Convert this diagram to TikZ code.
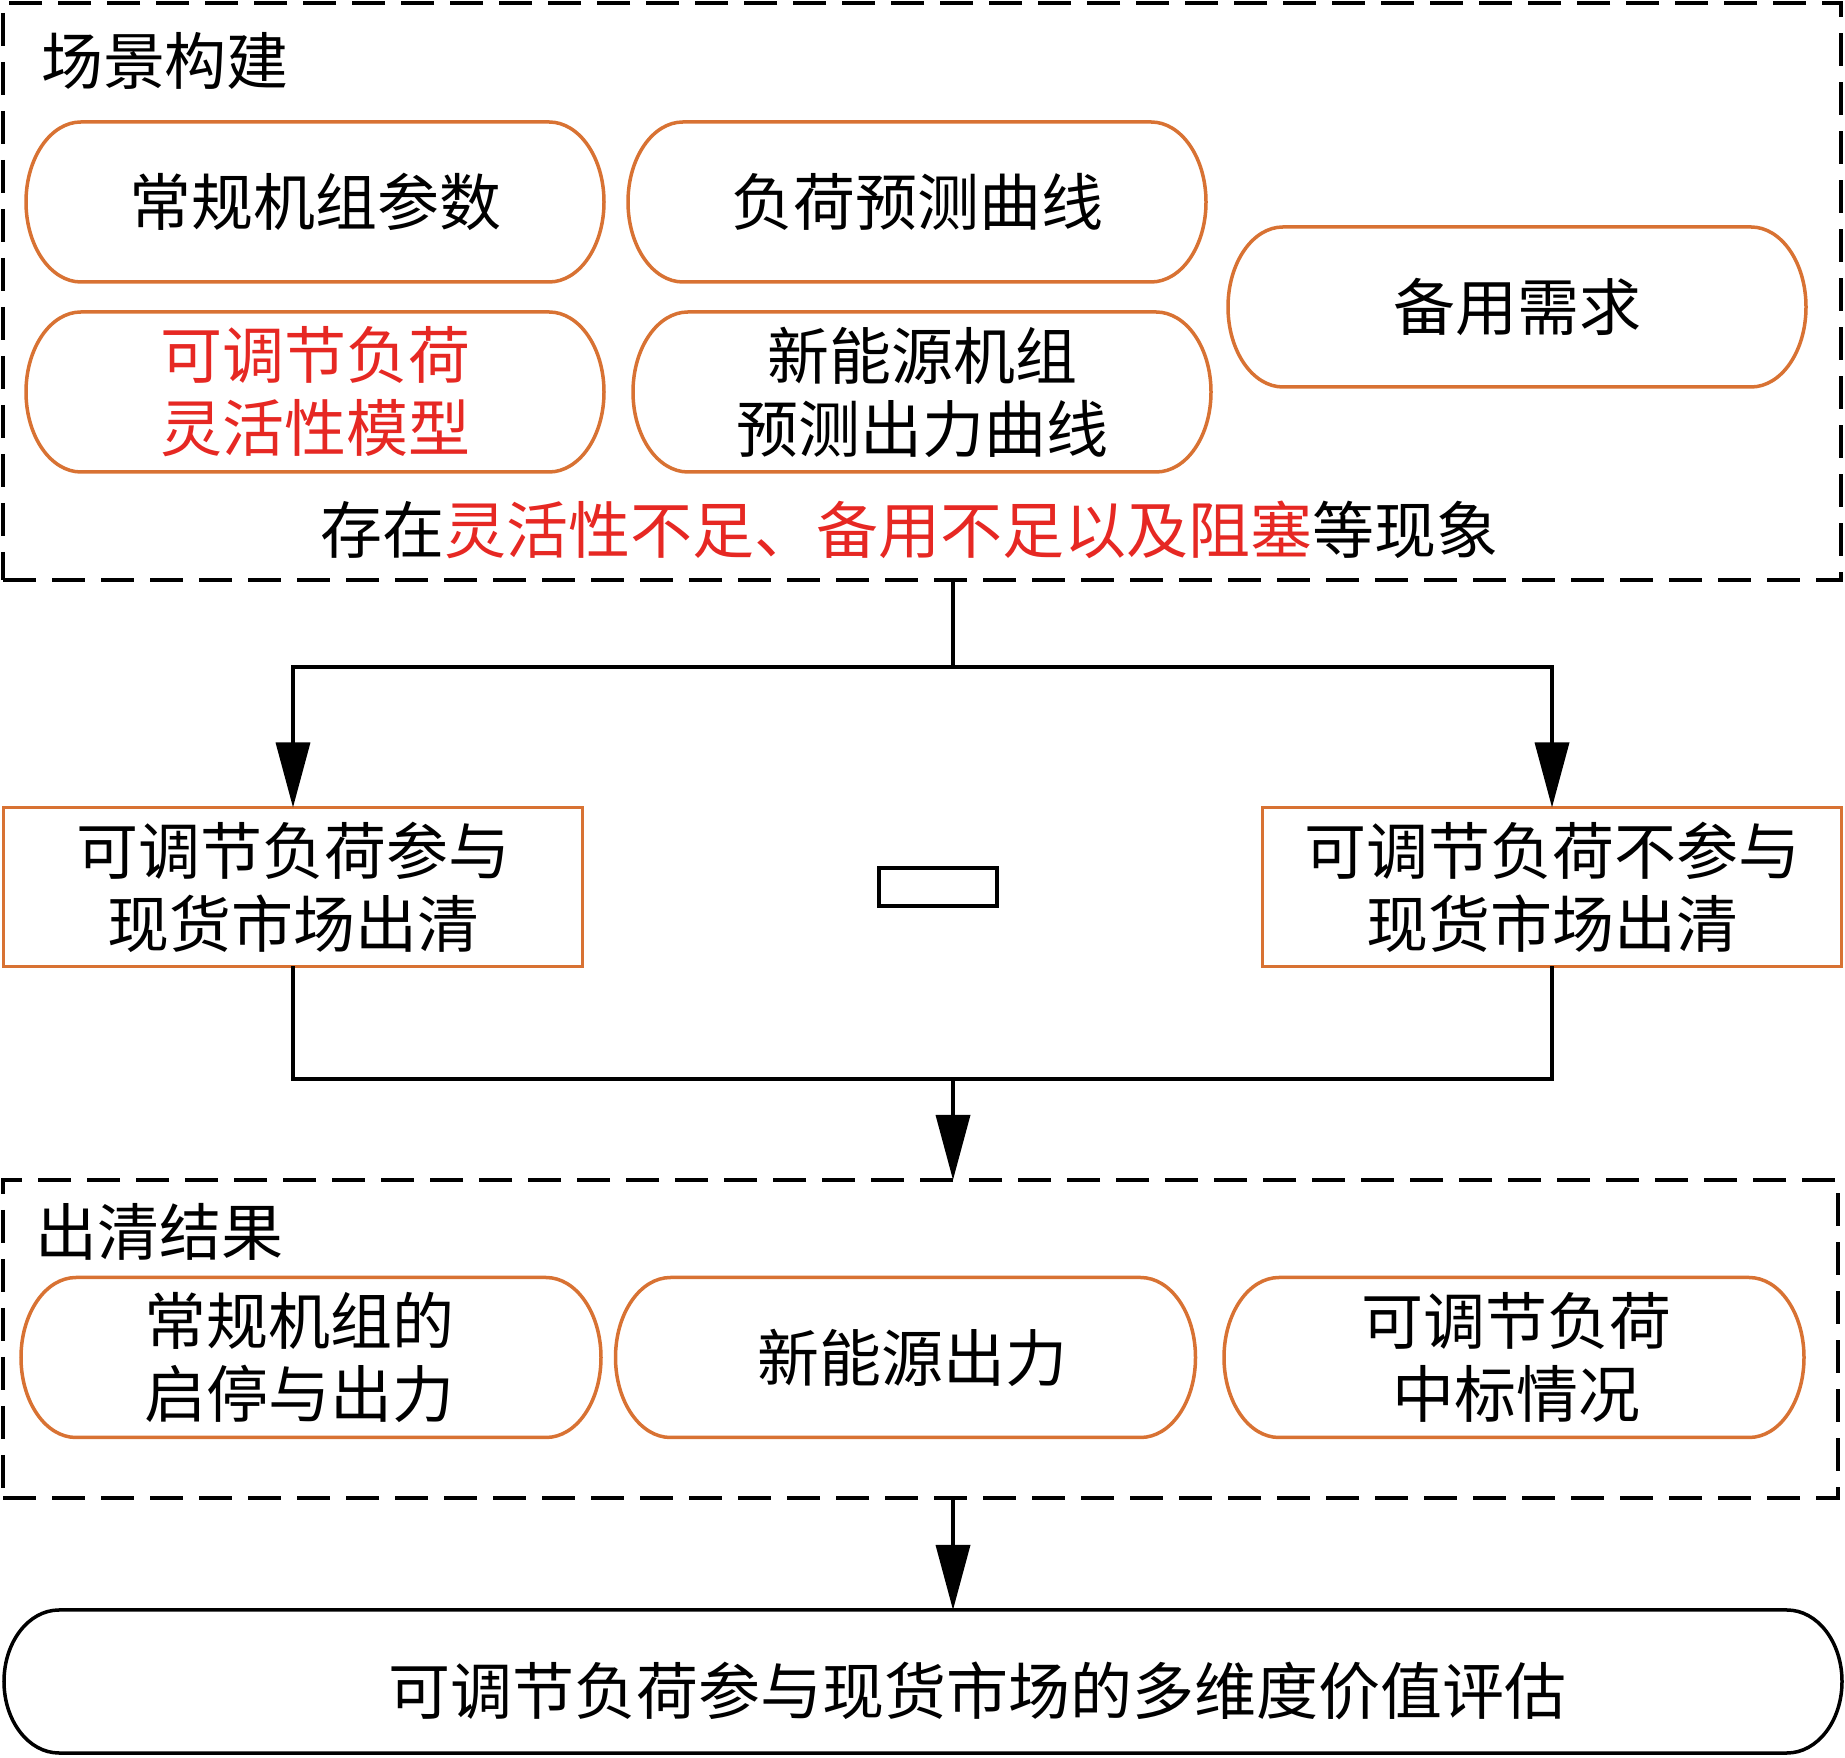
\documentclass[tikz,border=0pt]{standalone}
\usepackage{fontspec}
\setmainfont{Noto Sans CJK SC}
\usetikzlibrary{arrows.meta,calc}
\definecolor{boxorange}{RGB}{216,114,51}
\definecolor{txtred}{RGB}{230,40,35}
\begin{document}
\begin{tikzpicture}[x=1pt,y=1pt,
  txt/.style={font=\fontsize{62}{73}\selectfont, align=center, inner sep=0pt, outer sep=0pt},
  pill/.style={txt, minimum width=578pt, minimum height=160pt},
  orangeline/.style={draw=boxorange, line width=3.5pt},
  frame/.style={draw=black, line width=4pt, dash pattern=on 33pt off 16pt, inner sep=0pt, outer sep=0pt},
  sqbox/.style={txt, draw=boxorange, line width=3.5pt, minimum width=579pt, minimum height=159pt},
  conn/.style={draw=black, line width=3.5pt},
  arr/.style={conn, -{Triangle[length=65pt,width=34pt]}},
  red/.style={text=txtred}
]
\useasboundingbox (0,0) rectangle (1845,1757);

% frames
\node[frame, minimum width=1838pt, minimum height=577pt] (scene) at (922,1465.5) {};
\node[frame, minimum width=1835pt, minimum height=318pt] (result) at (920.5,418) {};

\node[txt, anchor=west] (t1) at (41,1696) {场景构建};
\node[txt, anchor=west] (t2) at (35,525) {出清结果};

% top pills
\node[pill] (b1) at (315,1555) {常规机组参数};
\node[pill] (b2) at (917,1555) {负荷预测曲线};
\node[pill] (b3) at (1517,1450) {备用需求};
\node[pill, red] (b4) at (315,1365) {可调节负荷\\灵活性模型};
\node[pill] (b5) at (922,1365) {新能源机组\\预测出力曲线};

\node[txt] (note) at (909,1227) {存在\textcolor{txtred}{灵活性不足、备用不足以及阻塞}等现象};

% lower pills
\node[pill, minimum width=580pt] (c1) at (311,399.5) {};
\node[pill, minimum width=580pt] (c2) at (905.5,399.5) {};
\node[pill, minimum width=580pt] (c3) at (1514,399.5) {};
\node[txt] (c1t) at (299,399.5) {常规机组的\\启停与出力};
\node[txt] (c2t) at (912,399.5) {新能源出力};
\node[txt] (c3t) at (1516,399.5) {可调节负荷\\中标情况};

\foreach \n in {b1,b2,b3,b4,b5,c1,c2,c3}{
  \draw[orangeline] ($(\n.north west)+(55,0)$) -- ($(\n.north east)+(-55,0)$)
    arc[start angle=90,end angle=-90,x radius=55,y radius=80]
    -- ($(\n.south west)+(55,0)$)
    arc[start angle=270,end angle=90,x radius=55,y radius=80] -- cycle;
}

% middle boxes
\node[sqbox] (lp) at (293,870) {可调节负荷参与\\现货市场出清};
\node[sqbox] (rp) at (1552,870) {可调节负荷不参与\\现货市场出清};
\node[draw=black, line width=3.5pt, minimum width=118pt, minimum height=38pt, inner sep=0pt] (mid) at (938,870) {};

% final
\node[inner sep=0pt, outer sep=0pt, minimum width=1838pt, minimum height=143pt] (eval) at (923,75.5) {};
\draw[conn] ($(eval.north west)+(55,0)$) -- ($(eval.north east)+(-55,0)$)
    arc[start angle=90,end angle=-90,x radius=55,y radius=71.5]
    -- ($(eval.south west)+(55,0)$)
    arc[start angle=270,end angle=90,x radius=55,y radius=71.5] -- cycle;
\node[txt] (evaltxt) at (977,66) {可调节负荷参与现货市场的多维度价值评估};

% connectors
\coordinate (j1) at (953,1090);
\coordinate (j2) at (953,678);
\draw[conn] (j1 |- scene.south) -- (j1);
\draw[arr] (j1) -| (lp.north);
\draw[arr] (j1) -| (rp.north);
\draw[conn] (lp.south) |- (j2);
\draw[conn] (rp.south) |- (j2);
\draw[arr] (j2) -- (j2 |- result.north);
\draw[arr] (j2 |- result.south) -- (j2 |- eval.north);
\end{tikzpicture}
\end{document}
